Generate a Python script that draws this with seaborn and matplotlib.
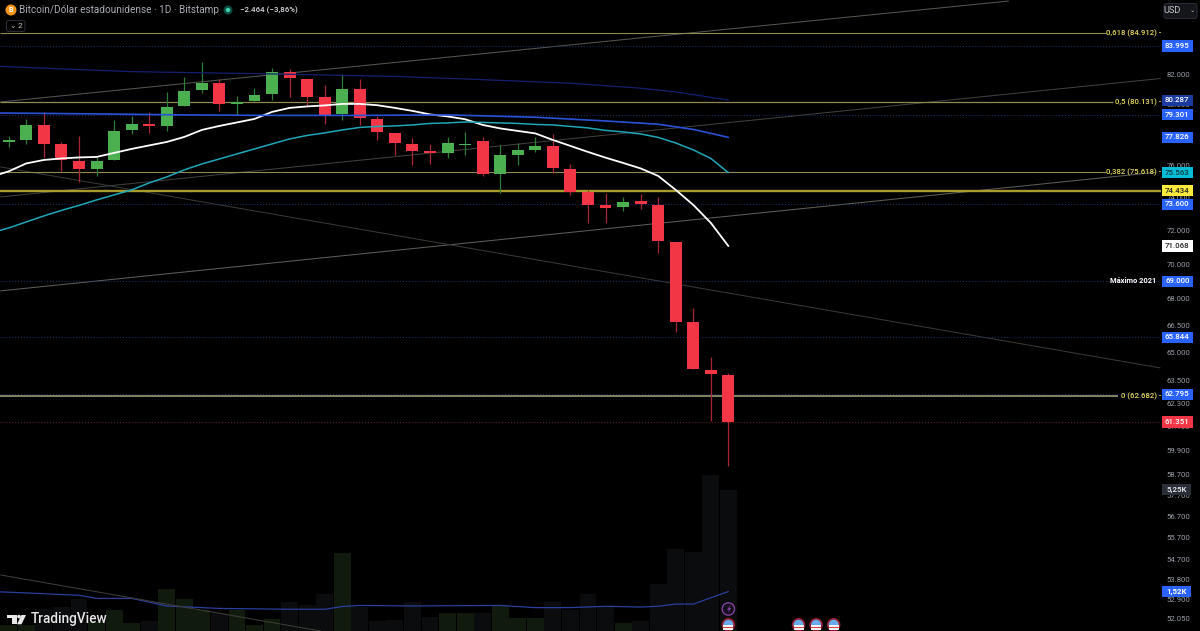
import numpy as np
import pandas as pd
import seaborn as sns
import matplotlib
matplotlib.use("Agg")
import matplotlib.pyplot as plt
from matplotlib.path import Path
from matplotlib.patches import Circle, Rectangle, Polygon, FancyBboxPatch
from matplotlib.transforms import Affine2D, blended_transform_factory

# ---------- data ----------
opens = [77508,77657,78639,77380,76326,75780,76351,78292,78704,78593,79898,80953,81447,80051,80211,80703,82180,81739,80480,79345,81062,79033,78096,77419,76949,76839,77335,77593,75503,76691,77013,77271,75820,74340,73536,73413,73799,73554,71314,66686,64082,63815]
closes = [77637,78639,77419,76370,75780,76288,78246,78684,78593,79832,80885,81447,80051,80164,80635,82180,81788,80500,79299,81062,79099,78161,77464,76968,76820,77445,77368,75503,76672,76994,77271,75864,74376,73554,73389,73756,73597,71373,66719,64135,63883,61351]
highs = [77939,79013,79479,77548,77919,76582,78966,79212,79479,80818,81836,82868,81719,80567,81109,82455,82386,81739,81312,82063,81698,79212,78096,77808,77380,77834,78181,77873,77335,77445,77873,78050,76117,74482,74276,74066,74234,74066,71314,67472,64764,63936]
lows = [77226,77400,76499,75694,74980,75377,76351,78070,78096,78246,79898,80790,79546,79299,80211,80297,80480,79851,78704,78966,78639,77657,76711,76054,76117,76499,76691,75377,74276,76054,76884,75528,74172,72473,72437,73187,73328,70645,66165,64135,61406,59158]
volumes = [.29,.29,.87,.97,1.23,.42,.84,.38,.45,1.60,1.25,.84,.72,.84,.29,.51,1.12,1.03,1.43,2.92,.97,.45,.47,1.12,.60,.72,.72,.72,.99,.54,.54,1.12,.84,1.42,.94,.35,.44,1.80,3.07,2.98,5.79,5.25]

ema_days = list(range(-1, 42))
ema_white = [75295,75650,76150,76370,76466,76531,76563,76820,77077,77303,77528,77854,78310,78573,78802,79033,79499,79765,79865,79931,80031,80031,79945,79765,79566,79332,79199,79013,78639,78410,78246,78083,77657,77271,76884,76518,76180,75832,75358,74482,73554,72456,71068]
ema_teal = [71853,72154,72516,72881,73217,73523,73860,74172,74482,74918,75295,75738,76117,76434,76756,77077,77400,77722,77952,78116,78310,78475,78541,78573,78639,78737,78769,78835,78802,78769,78737,78672,78639,78541,78442,78279,78181,78050,77821,77464,77013,76466,75563]
ema_blue_days = [-1,5,10,15,20,25,30,34,37,39,41]
ema_blue = [79433,79366,79299,79266,79266,79299,79146,78900,78684,78344,77826]
ema_navy_days = [-1,3,7,15,22,26,32,36,38,41]
ema_navy = [82613,82407,82221,82063,81891,81719,81427,81088,80839,80287]
vol_ma_days = [-1,1,4,5,7,9,12,16,18,19,20,23,28,30,32,34,36,37,38,39,41]
vol_ma = [1.52,1.47,1.38,1.27,1.27,.99,.90,.87,.87,.97,1.01,.99,1.01,.93,.93,.98,.95,.98,1.06,1.06,1.52]

trend_days = [[-0.47,56.96],[-0.47,65.6],[-0.47,65.3],[-0.47,65.6],[-0.47,17.76]]
trend_prices = [[80164,87214],[74047,81746],[68455,75579],[75928,64189],[53990,51519]]
trend_colors = ["#55554f","#3f3f3c","#5c5c58","#383836","#3d3d38"]

fib_prices = [84912,80131,75618,62682]
fib_labels = ["0,618 (84.912) -","0,5 (80.131) -","0,382 (75.618) -","0 (62.682) -"]
fib_ends = [62.5,62.9,62.5,63.2]
dotted_levels = [83995,79301,73600,69000,65844,62795]
tick_values = [82000,80000,78000,76000,74000,72000,70000,68000,66500,65000,63500,62300,61100,59900,58700,57700,56700,55700,54700,53800,52900,52050]
tick_labels = ["82.000","80.000","78.000","76.000","74.000","72.000","70.000","68.000","66.500","65.000","63.500","62.300","61.100","59.900","58.700","57.700","56.700","55.700","54.700","53.800","52.900","52.050"]
price_tags = [(83995,"83.995","#2962ff","white"),(80287,"80.287","#1a3a9e","white"),(79301,"79.301","#2962ff","white"),
              (77826,"77.826","#2962ff","white"),(75563,"75.563","#00bcd4","#0c3a44"),(74434,"74.434","#ffeb3b","#222222"),
              (73600,"73.600","#2962ff","white"),(71068,"71.068","#ffffff","#222222"),(69000,"69.000","#2962ff","white"),
              (65844,"65.844","#2962ff","white"),(62795,"62.795","#2962ff","white"),(61351,"61.351","#f23645","white")]
flag_days = [41,45,46,47]

# ---------- style ----------
sns.set_theme(style="dark", rc={"axes.facecolor":"black","figure.facecolor":"black","savefig.facecolor":"black",
                                "axes.grid":False,"axes.edgecolor":"black"})
plt.rcParams["font.family"] = ["Roboto","DejaVu Sans"]
GREEN, RED, GWICK, RWICK = "#4caf50","#f23645","#2f7d34","#a8283a"

fig = plt.figure(figsize=(12,6.31), dpi=100, facecolor="black")
ax2 = fig.add_axes([0,0,1,1], zorder=0)
ax = fig.add_axes([0,0,1,1], zorder=1)
ax.patch.set_visible(False)
px = Affine2D().scale(1,-1).translate(0,631)

def tag_box(half_w, half_h):
    def box(x0, y0, w, h, mutation_size):
        cx, cy = x0+w/2, y0+h/2
        verts = [(cx-half_w,cy-half_h),(cx+half_w,cy-half_h),(cx+half_w,cy+half_h),(cx-half_w,cy+half_h),(cx-half_w,cy-half_h)]
        return Path(verts, closed=True)
    return box

days = np.arange(len(opens))
df = pd.DataFrame({"day":days,"open":opens,"close":closes,"high":highs,"low":lows,"vol":volumes})
df["dir"] = np.where(df.close>=df.open,"up","down")
df["top"] = df[["open","close"]].max(axis=1)
df["bottom"] = df[["open","close"]].min(axis=1)

# ---------- volume pane ----------
xlim = (-0.50, 67.87)
sns.barplot(data=df, x="day", y="vol", hue="dir", palette={"up":"#111b0d","down":"#0b0c0e"}, dodge=False,
            native_scale=True, width=0.96, saturation=1, legend=False, ax=ax2, linewidth=0)
sns.lineplot(x=vol_ma_days, y=vol_ma, color="#2a3f9e", lw=0.9, ax=ax2, estimator=None, sort=False)
ax2.set_xlim(*xlim); ax2.set_ylim(0.073, 23.2)
ax2.set_xticks([]); ax2.set_yticks([]); ax2.set_xlabel(""); ax2.set_ylabel("")
for s in ax2.spines.values(): s.set_visible(False)

# ---------- price pane ----------
ax.set_yscale("log")
for d,p,c in zip(trend_days,trend_prices,trend_colors):
    sns.lineplot(x=d, y=p, color=c, lw=0.75, ax=ax, estimator=None, sort=False, zorder=1)
for lv in dotted_levels:
    ax.hlines(lv, xlim[0], 65.65, color="#1f2f80", lw=0.7, linestyles=(0,(1,2)), zorder=1)
ax.hlines(61351, xlim[0], 65.65, color="#7a2530", lw=0.7, linestyles=(0,(1,2)), zorder=1)
fib_line = ["#8f8a55","#8f8a55","#8f8a55","#9a9a70"]
fib_width = [0.8,0.9,0.8,1.2]
for p,lab,e,c,w in zip(fib_prices,fib_labels,fib_ends,fib_line,fib_width):
    ax.hlines(p, xlim[0], e, color=c, lw=w, zorder=1.5)
    ax.text(65.65, p, lab, color="#e5d85c", fontsize=5.6, fontweight="medium", ha="right", va="center", zorder=9)
ax.hlines(74434, xlim[0], 65.65, color="#a89c2c", lw=1.7, zorder=1.5)

# moving averages and candles
sns.lineplot(x=ema_days, y=ema_white, color="white", lw=1.3, ax=ax, estimator=None, sort=False, zorder=4)
sns.lineplot(x=ema_days, y=ema_teal, color="#1fa7b8", lw=1.1, ax=ax, estimator=None, sort=False, zorder=4)
sns.lineplot(x=ema_blue_days, y=ema_blue, color="#2a52d6", lw=1.2, ax=ax, estimator=None, sort=False, zorder=4)
sns.lineplot(x=ema_navy_days, y=ema_navy, color="#14206e", lw=0.9, ax=ax, estimator=None, sort=False, zorder=4)
ax.vlines(df.day, df.low, df.high, colors=df.dir.map({"up":GWICK,"down":RWICK}), lw=0.9, zorder=3)
ax.bar(df.day, df.top-df.bottom, bottom=df.bottom, width=0.68, color=df.dir.map({"up":GREEN,"down":RED}), linewidth=0, zorder=3.5)

ax.set_xlim(*xlim); ax.set_ylim(51519, 87292)
ax.set_xticks([]); ax.set_xlabel(""); ax.set_ylabel("")
ax.yaxis.tick_right()
ax.set_yticks(tick_values, tick_labels)
ax.yaxis.set_minor_locator(matplotlib.ticker.NullLocator())
ax.tick_params(axis="y", which="major", length=0, pad=-23.9, labelsize=5.6, labelcolor="#9a9ea8")
for s in ax.spines.values(): s.set_visible(False)

# price tags
tx = blended_transform_factory(ax.transAxes, ax.transData)
for p,t,bg,fg in price_tags:
    ax.text(1177.3/1200, p, t, transform=tx, color=fg, fontsize=5.7, fontweight="medium", ha="center", va="center", zorder=10,
            bbox=dict(boxstyle=tag_box(15.5,5.6), fc=bg, ec="none"))
ax.text(65.4, 69000, "Máximo 2021", color="white", fontsize=5.4, fontweight="bold", ha="right", va="center", zorder=9)
tv = blended_transform_factory(ax.transAxes, ax2.transData)
ax.text(1176.5/1200, 5.25, "5,25K", transform=tv, color="#d8dae0", fontsize=5.7, fontweight="bold", ha="center", va="center", zorder=10,
        bbox=dict(boxstyle=tag_box(14.3,5.4), fc="#2a2e39", ec="none"))
ax.text(1176.5/1200, 1.52, "1,52K", transform=tv, color="white", fontsize=5.7, fontweight="bold", ha="center", va="center", zorder=10,
        bbox=dict(boxstyle=tag_box(14.3,5.4), fc="#2962ff", ec="none"))

# header
def add(p):
    p.set_transform(px); p.set_clip_on(False); ax.add_artist(p); return p
def ptext(x,y,s,**k):
    ax.text(x,y,s,transform=px,clip_on=False,zorder=12,**k)
add(Circle((11,10),5.5,fc="#f7931a",ec="none",zorder=11))
ptext(11,10,"B",color="white",fontsize=5,fontweight="bold",ha="center",va="center")
ptext(19.3,10,"Bitcoin/Dólar estadounidense · 1D · Bitstamp",color="#a9acb5",fontsize=7.2,ha="left",va="center")
add(Circle((228,10),4.5,fc="#0c4a42",ec="none",zorder=11))
add(Circle((228,10),2.2,fc="#3fd0b0",ec="none",zorder=12))
ptext(239.5,10,"−2.464 (−3,86%)",color="#d6d8dd",fontsize=5.7,fontweight="medium",ha="left",va="center")
add(FancyBboxPatch((6.5,20.5),18.5,11,boxstyle="round,pad=0,rounding_size=2",fc="black",ec="#2a2e39",lw=0.7,zorder=11))
ptext(20,26,"2",color="#c4c6cc",fontsize=6,ha="center",va="center")
ptext(12.5,25.5,"⌄",color="#c4c6cc",fontsize=5.5,ha="center",va="center",family="DejaVu Sans")
add(FancyBboxPatch((1164,3.5),33,15,boxstyle="round,pad=0,rounding_size=2.5",fc="#15161a",ec="#2a2e39",lw=0.7,zorder=11))
ptext(1172.5,10.5,"USD",color="#c4c6cc",fontsize=6.6,ha="center",va="center")
ptext(1192,10.5,"⌄",color="#c4c6cc",fontsize=4.5,ha="center",va="center",family="DejaVu Sans")

# watermark
add(Polygon([(7.3,615),(16.5,615),(16.5,624.3),(12,624.3),(12,618.3),(7.3,618.3)],closed=True,fc="#e8e8e8",ec="none",zorder=11))
add(Circle((19,616.6),1.8,fc="#e8e8e8",ec="none",zorder=11))
add(Polygon([(21.5,615),(26,615),(21.5,624.3),(17,624.3)],closed=True,fc="#e8e8e8",ec="none",zorder=11))
ptext(31,619.5,"TradingView",color="#e8e8e8",fontsize=9.8,fontweight="medium",ha="left",va="center")

# event icons
def day_px(d): return 8.8+17.55*d
add(Circle((day_px(41),609),6.2,fc="#15101c",ec="#8e44ad",lw=0.9,zorder=11))
add(Polygon([(730.5,605),(727,609.8),(729,609.8),(727.6,613),(731.2,608.2),(729.2,608.2)],closed=True,fc="#8e44ad",ec="none",zorder=12))
for d in flag_days:
    cx = day_px(d)
    add(Circle((cx,624.7),6.8,fc="#8f1f2c",ec="none",zorder=11))
    inner = add(Circle((cx,624.7),5.0,fc="#6aa9ec",ec="none",zorder=12))
    for yy,col in [(625.2,"#f1f3f7"),(627.0,"#d9414f"),(628.4,"#f1f3f7")]:
        r = add(Rectangle((cx-5,yy),10,1.5,fc=col,ec="none",zorder=13))
        r.set_clip_path(inner)

fig.savefig("out.png", dpi=100, facecolor="black")
